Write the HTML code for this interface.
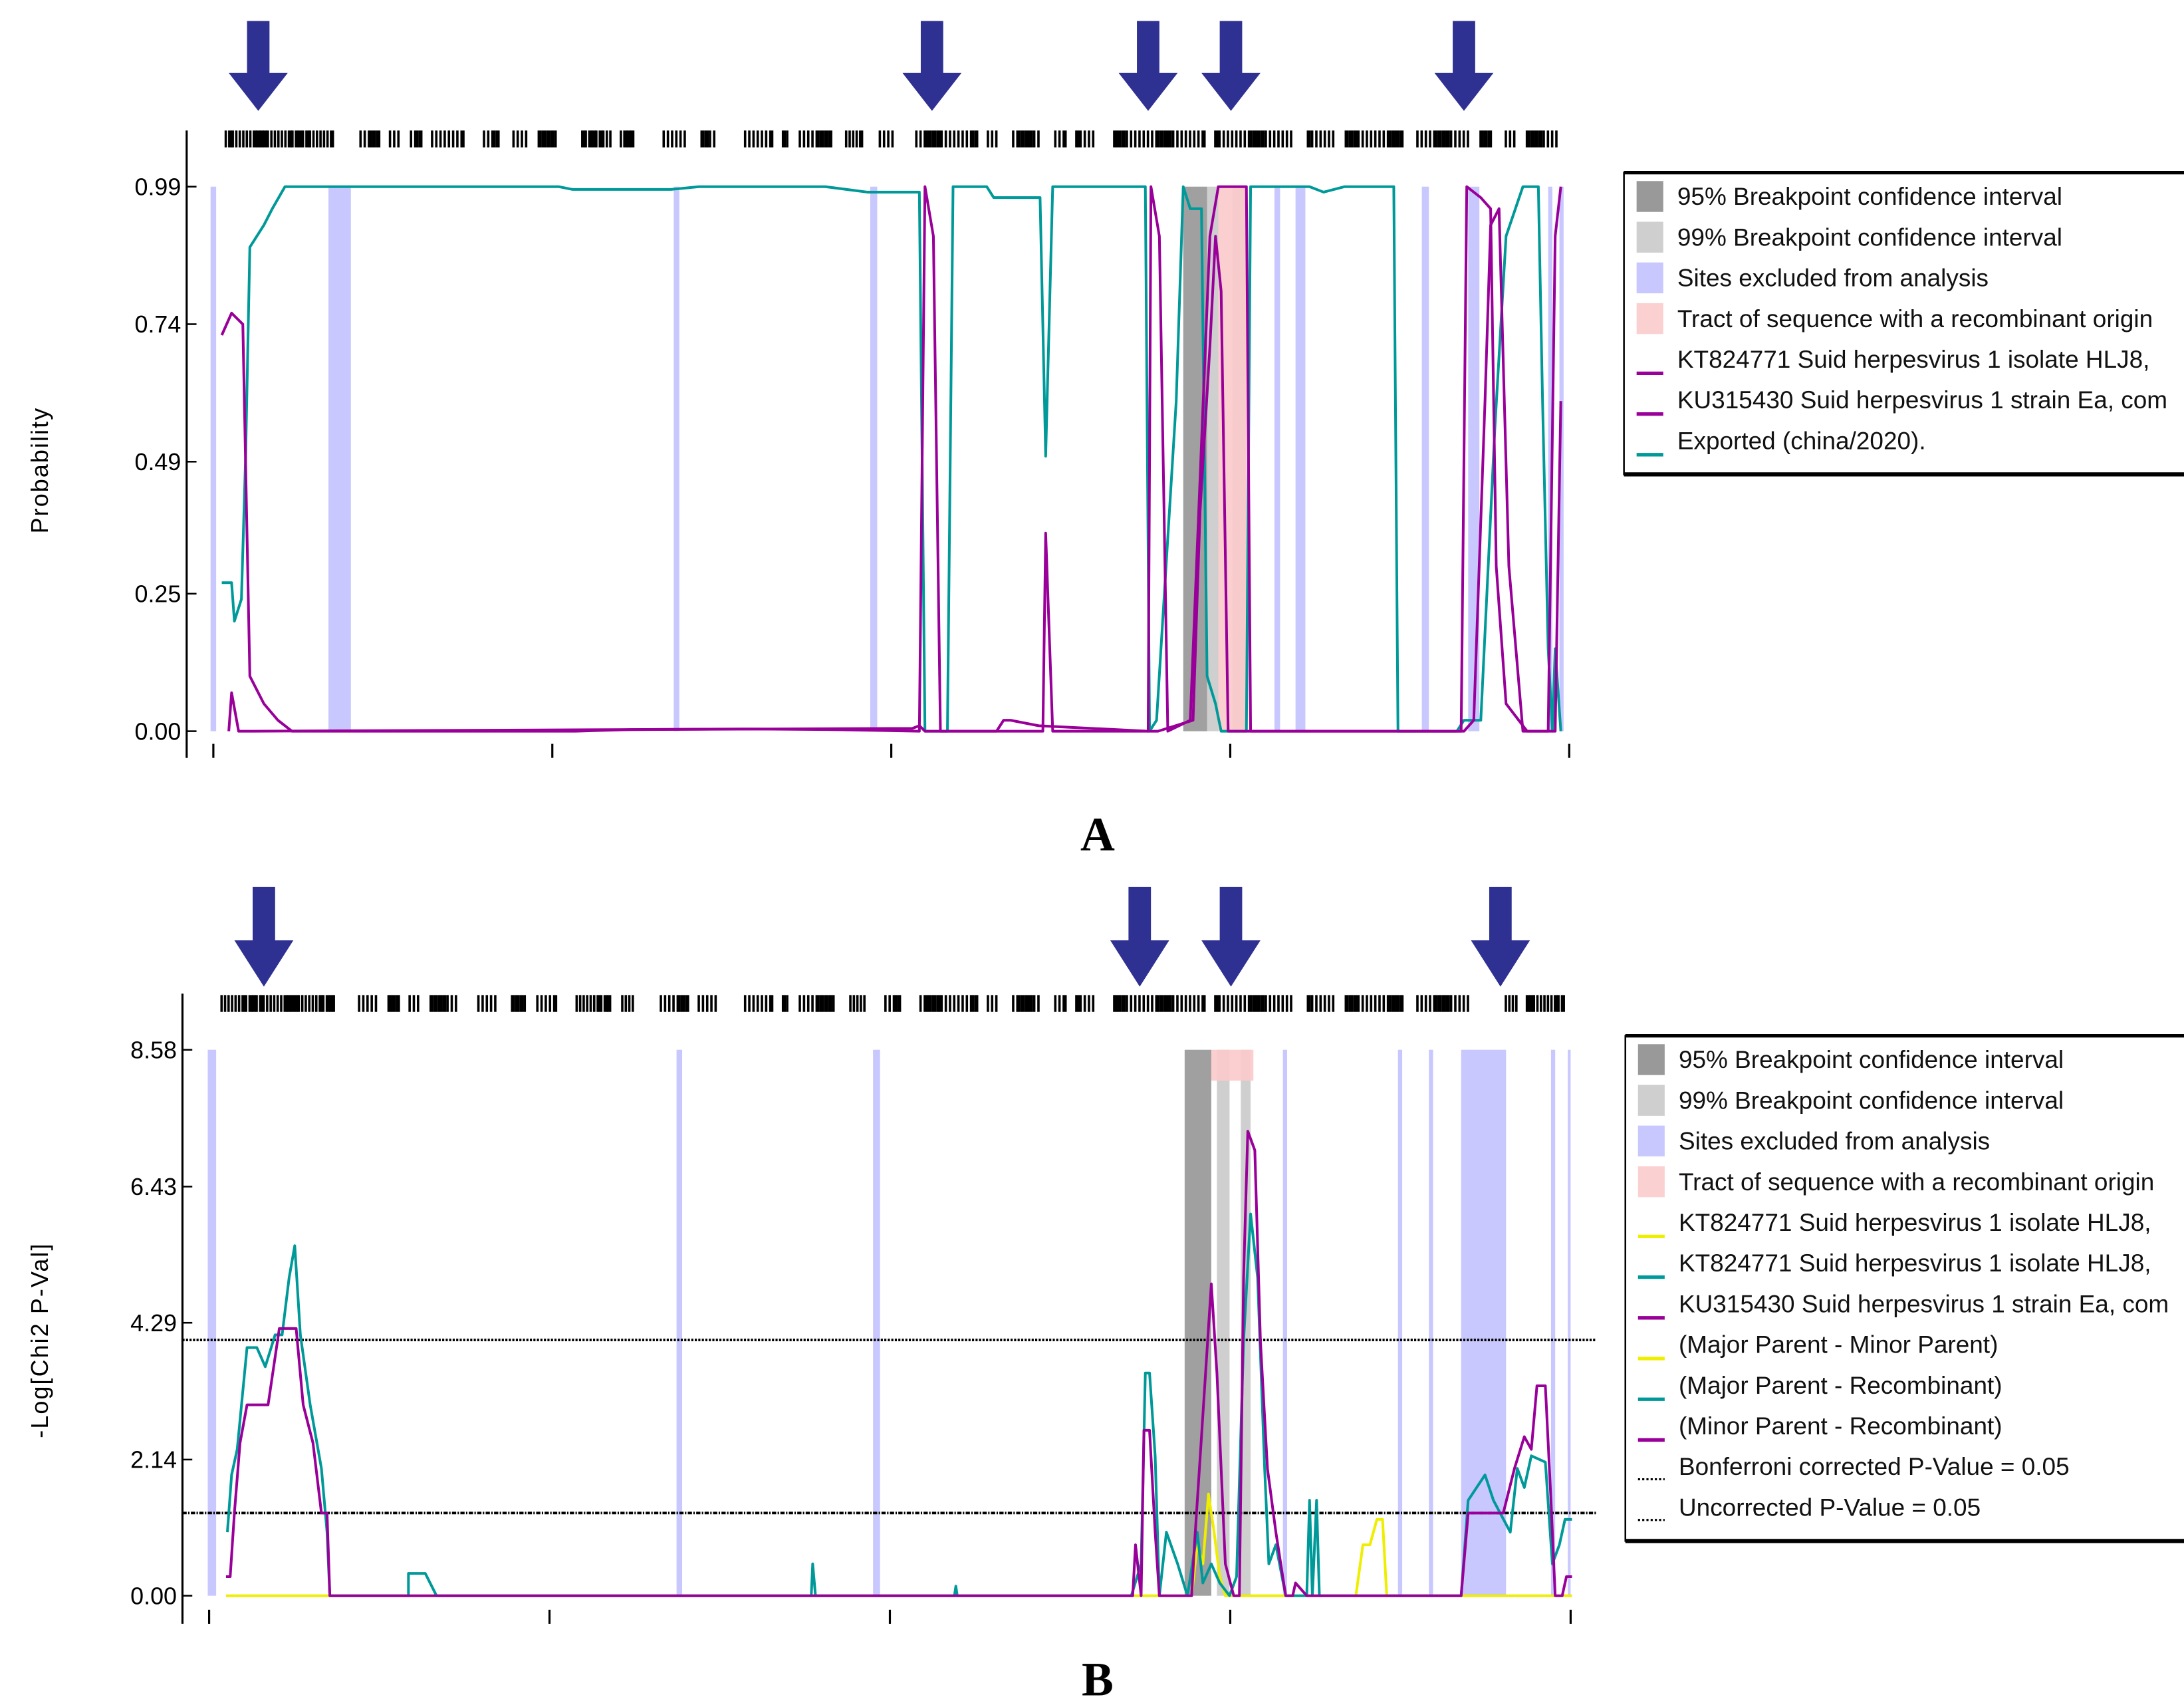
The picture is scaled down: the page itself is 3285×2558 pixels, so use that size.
<!DOCTYPE html>
<html><head><meta charset="utf-8"><style>
html,body{margin:0;padding:0;background:#fff;overflow:hidden;}
svg{display:block;}
.sans{font-family:"Liberation Sans",sans-serif;}
</style></head><body>
<svg id="chart" class="sans" width="3285" height="2558" viewBox="0 0 1556 1212" preserveAspectRatio="none" xmlns="http://www.w3.org/2000/svg">
<g id="panelA"></g>
<g id="panelB"></g>
<text x="782" y="606" style="font-family:'Liberation Serif',serif;font-weight:bold;font-size:34px" text-anchor="middle">A</text>
<text x="782" y="1208" style="font-family:'Liberation Serif',serif;font-weight:bold;font-size:34px" text-anchor="middle">B</text>
</svg>
<script>
// ---------- Data (positions in hundreds of nt along alignment) ----------
const arrowsA = [34, 514, 668, 727, 893];
const arrowsB = [38, 662, 727, 919];
const tickDenseA = [[10,86],[106,180],[194,246],[264,300],[322,360],[380,440],[452,462],[476,486],[502,960]];
const tickGapsA = [[120,125],[135,140],[150,155],[205,212],[225,230],[285,290],[340,346],[400,404],[412,418],[545,552],[560,570],[590,598],[610,614],[630,640],[708,712],[770,780],[800,806],[850,856],[896,902],[912,920],[930,936]];
const tickDenseB = [[7,88],[105,175],[190,244],[260,300],[320,360],[380,444],[455,465],[480,490],[505,896],[922,962]];

const yTicksA = [0.00, 0.25, 0.49, 0.74, 0.99];
const yTicksB = [0.00, 2.14, 4.29, 6.43, 8.58];
const bonferroni = 4.02;
const uncorrected = 1.30;

const excludedA = [[0,4],[84,100],[330,334],[470,475],[758,762],[773,780],[863,868],[896,904],[953,956],[961,964]];
const ci95A = [[693,710]];
const ci99A = [[710,718],[728,738]];
const tractA = [[718,738]];

const excludedB = [[-2,4],[332,336],[472,477],[764,767],[846,849],[868,871],[891,923],[955,958],[967,969]];
const ci95B = [[694,713]];
const ci99B = [[717,726],[734,741]];
const tractB = [[713,743]];

// Panel A series
const tealA_x = [8,15,17,22,25,28,38,44,53,248,258,328,348,438,468,505,509,525,529,553,558,591,595,600,605,666,669,674,688,693,698,706,710,716,720,723,738,741,783,793,808,843,846,888,893,905,915,923,935,946,949,953,956,958,962];
const tealA_v = [0.27,0.27,0.20,0.24,0.50,0.88,0.92,0.95,0.99,0.99,0.985,0.985,0.99,0.99,0.98,0.98,0.00,0.00,0.99,0.99,0.97,0.97,0.50,0.99,0.99,0.99,0.00,0.02,0.60,0.99,0.95,0.95,0.10,0.05,0.00,0.00,0.00,0.99,0.99,0.98,0.99,0.99,0.00,0.00,0.02,0.02,0.55,0.90,0.99,0.99,0.60,0.15,0.00,0.15,0.00];
const purpleA1_x = [8,15,23,28,38,48,58,260,300,380,440,505,509,515,520,593,595,600,668,670,676,682,698,712,718,723,738,741,891,895,905,912,916,923,938,953,958,962];
const purpleA1_v = [0.72,0.76,0.74,0.10,0.05,0.02,0.00,0.00,0.003,0.004,0.003,0.00,0.99,0.90,0.00,0.00,0.36,0.00,0.00,0.99,0.90,0.00,0.02,0.90,0.99,0.99,0.99,0.00,0.00,0.99,0.97,0.95,0.30,0.05,0.00,0.00,0.90,0.99];
const purpleA2_x = [13,15,20,30,500,505,509,560,565,570,590,668,675,700,705,712,716,720,725,893,900,908,912,918,925,935,958,962];
const purpleA2_v = [0.00,0.07,0.00,0.00,0.005,0.01,0.00,0.00,0.02,0.02,0.01,0.00,0.00,0.02,0.40,0.70,0.90,0.80,0.00,0.00,0.02,0.60,0.92,0.95,0.30,0.00,0.00,0.60];

// Panel B series
const tealB_x = [12,15,19,26,33,39,46,51,56,60,64,71,79,83,85,141,141,153,161,428,429,431,530,531,532,656,663,666,669,673,676,681,689,696,703,707,713,719,726,731,736,741,746,751,754,759,766,781,783,785,788,790,791,891,896,908,914,926,931,936,941,951,956,961,965,970];
const tealB_v = [1.0,1.9,2.3,3.9,3.9,3.6,4.1,4.1,5.0,5.5,4.1,3.0,2.0,1.0,0,0,0.35,0.35,0,0,0.5,0,0,0.15,0,0,0.5,3.5,3.5,2.2,0,1.0,0.5,0,1.0,0.2,0.5,0.2,0,0.3,4.0,6.0,5.0,2.0,0.5,0.8,0,0,1.5,0,1.5,0,0,0,1.5,1.9,1.5,1.0,2.0,1.7,2.2,2.1,0.5,0.8,1.2,1.2];
const purpleB_x = [11,14,17,21,26,41,49,61,66,73,79,83,85,657,659,663,665,669,673,676,699,701,706,713,717,723,729,733,736,739,744,748,753,759,766,771,773,781,891,896,921,929,936,941,945,951,955,958,963,966,970];
const purpleB_v = [0.3,0.3,1.3,2.4,3.0,3.0,4.2,4.2,3.0,2.4,1.3,1.3,0,0,0.8,0,2.6,2.6,1.0,0,0,0.8,2.5,4.9,3.5,0.5,0,0,5.0,7.3,7.0,4.0,2.0,1.0,0,0,0.2,0,0,1.3,1.3,2.0,2.5,2.3,3.3,3.3,1.5,0,0,0.3,0.3];
const yellowB_x = [11,699,703,707,711,715,719,723,816,821,826,831,835,838,970];
const yellowB_v = [0,0,0.8,0.5,1.6,1.0,0.3,0,0,0.8,0.8,1.2,1.2,0,0];

const legendA = [
 ["band","#999999","95% Breakpoint confidence interval"],
 ["band","#cfcfcf","99% Breakpoint confidence interval"],
 ["band","#c8c8ff","Sites excluded from analysis"],
 ["band","#fbd0d0","Tract of sequence with a recombinant origin"],
 ["line","#990099","KT824771 Suid herpesvirus 1 isolate HLJ8,"],
 ["line","#990099","KU315430 Suid herpesvirus 1 strain Ea, com"],
 ["line","#009999","Exported (china/2020)."]];
const legendB = [
 ["band","#999999","95% Breakpoint confidence interval"],
 ["band","#cfcfcf","99% Breakpoint confidence interval"],
 ["band","#c8c8ff","Sites excluded from analysis"],
 ["band","#fbd0d0","Tract of sequence with a recombinant origin"],
 ["line","#eeee00","KT824771 Suid herpesvirus 1 isolate HLJ8,"],
 ["line","#009999","KT824771 Suid herpesvirus 1 isolate HLJ8,"],
 ["line","#990099","KU315430 Suid herpesvirus 1 strain Ea, com"],
 ["line","#eeee00","(Major Parent - Minor Parent)"],
 ["line","#009999","(Major Parent - Recombinant)"],
 ["line","#990099","(Minor Parent - Recombinant)"],
 ["dot","#000","Bonferroni corrected P-Value = 0.05"],
 ["dot","#000","Uncorrected P-Value = 0.05"]];

const NS = "http://www.w3.org/2000/svg";
function mk(parent, tag, attrs){const e=document.createElementNS(NS,tag);for(const k in attrs)e.setAttribute(k,attrs[k]);parent.appendChild(e);return e;}

function drawPanel(g, cfg){
  const xs = v => cfg.x0 + (v - cfg.d0) / (cfg.d1 - cfg.d0) * (cfg.x1 - cfg.x0);
  const ys = v => cfg.yb - v / cfg.ymax * (cfg.yb - cfg.yt);
  const bandSets = [[cfg.excl,"#c8c8ff","excluded-site-band"],[cfg.ci99,"#cfcfcf","ci99-band"],[cfg.ci95,"#a0a0a0","ci95-band"]];
  bandSets.forEach(([arr,col,nm])=>arr.forEach(b=>{
    const r=mk(g,"rect",{x:xs(b[0]),y:cfg.yt,width:Math.max(2,xs(b[1])-xs(b[0])),height:cfg.yb-cfg.yt,fill:col});
    
    
  }));
  cfg.tract.forEach(b=>{
    const h = cfg.tractFull ? cfg.yb-cfg.yt : 22;
    const r=mk(g,"rect",{x:xs(b[0]),y:cfg.yt,width:xs(b[1])-xs(b[0]),height:h,fill:"#fbcaca",opacity:0.9});
    
    
  });
  (cfg.thresholds||[]).forEach((t,i)=>{
    const l=mk(g,"line",{x1:cfg.axisX,x2:1137,y1:ys(t),y2:ys(t),stroke:"#000","stroke-width":1.8,"stroke-dasharray":i?"3,1,1,1":"1.5,1"});
    
    
  });
  cfg.series.forEach(s=>{
    const pts=s.x.map((v,i)=>xs(v).toFixed(1)+","+ys(s.v[i]).toFixed(1)).join(" ");
    const p=mk(g,"polyline",{points:pts,fill:"none",stroke:s.color,"stroke-width":1.9,"stroke-linejoin":"round"});
    
    
  });
  const ax=mk(g,"line",{x1:cfg.axisX,x2:cfg.axisX,y1:cfg.axisTop,y2:cfg.axisBot,stroke:"#000","stroke-width":1.5});
  
  
  cfg.yticks.forEach(t=>{
    const tl=mk(g,"line",{x1:cfg.axisX,x2:cfg.axisX+7,y1:ys(t),y2:ys(t),stroke:"#000","stroke-width":1.2});
    
    
    const tx=mk(g,"text",{x:cfg.axisX-4,y:ys(t)+6,"font-size":17,"text-anchor":"end",fill:"#000"});
    tx.textContent=t.toFixed(2);
    
    
  });
  for(let i=0;i<5;i++){
    const xv=cfg.xTick0+i*(cfg.xTick1-cfg.xTick0)/4;
    const tl=mk(g,"line",{x1:xv,x2:xv,y1:cfg.axisBot-10,y2:cfg.axisBot,stroke:"#000","stroke-width":1.5});
    
    
  }
  const yt=mk(g,"text",{x:0,y:0,"font-size":17,"text-anchor":"middle",transform:`translate(${cfg.titleX},${cfg.titleY}) rotate(-90)`,"letter-spacing":"1"});
  yt.textContent=cfg.title;
  
  
  const sg=mk(g,"g",{});
  
  
  cfg.dense.forEach((r,ri)=>{
    for(let v=r[0]; v<=r[1]; v+= (ri%3===0?2.5:3)){
      if(cfg.gaps && cfg.gaps.some(gp=>v>=gp[0]&&v<=gp[1])) continue;
      const w = ((Math.round(v)*7)%11<4)?3:1.7;
      mk(sg,"rect",{x:xs(v),y:cfg.trackY,width:w,height:12,fill:"#000"});
    }
  });
  cfg.arrows.forEach(a=>{
    const cx=xs(a), t=cfg.arrowTop, m=cfg.arrowMid, b=cfg.arrowBot;
    const p=mk(g,"polygon",{points:`${cx-8},${t} ${cx+8},${t} ${cx+8},${m} ${cx+21},${m} ${cx},${b} ${cx-21},${m} ${cx-8},${m}`,fill:"#2e3192"});
    
    
  });
  const lg=mk(g,"g",{});
  
  
  const lh = cfg.legend.length*29+12;
  mk(lg,"rect",{x:cfg.legX,y:cfg.legY,width:420,height:lh,fill:"#fff",stroke:"#000","stroke-width":1.2});
  mk(lg,"line",{x1:cfg.legX,x2:cfg.legX+420,y1:cfg.legY+lh,y2:cfg.legY+lh,stroke:"#000","stroke-width":3});
  mk(lg,"line",{x1:cfg.legX,x2:cfg.legX+420,y1:cfg.legY,y2:cfg.legY,stroke:"#000","stroke-width":2.5});
  cfg.legend.forEach((e,i)=>{
    const cy=cfg.legY+17+i*29;
    const item=mk(lg,"g",{});
    
    
    if(e[0]==="band") mk(item,"rect",{x:cfg.legX+9,y:cy-11,width:19,height:22,fill:e[1]});
    else if(e[0]==="line") mk(item,"line",{x1:cfg.legX+9,x2:cfg.legX+28,y1:cy+10,y2:cy+10,stroke:e[1],"stroke-width":2.5});
    else mk(item,"line",{x1:cfg.legX+9,x2:cfg.legX+28,y1:cy+9,y2:cy+9,stroke:"#000","stroke-width":1.5,"stroke-dasharray":"1.5,1.5"});
    const t=mk(item,"text",{x:cfg.legX+38,y:cy+6,"font-size":17.5,fill:"#111"});
    t.textContent=e[2];
  });
}

drawPanel(document.getElementById("panelA"),{
  x0:152,x1:1118,d0:2,d1:968,yt:133,yb:521,ymax:0.99,
  excl:excludedA,ci95:ci95A,ci99:ci99A,tract:tractA,tractFull:true,
  series:[{x:tealA_x,v:tealA_v,color:"#009999",name:"exported-china-2020-line"},
          {x:purpleA1_x,v:purpleA1_v,color:"#990099",name:"kt824771-line"},
          {x:purpleA2_x,v:purpleA2_v,color:"#990099",name:"ku315430-line"}],
  axisX:133,axisTop:93,axisBot:540,yticks:yTicksA,xTick0:152,xTick1:1118,
  title:"Probability",titleX:34,titleY:335,
  dense:tickDenseA,gaps:tickGapsA,trackY:93,arrows:arrowsA,arrowTop:15,arrowMid:52,arrowBot:79,
  legend:legendA,legX:1157,legY:123
});
drawPanel(document.getElementById("panelB"),{
  x0:149,x1:1119,d0:-1,d1:969,yt:748,yb:1137,ymax:8.58,
  excl:excludedB,ci95:ci95B,ci99:ci99B,tract:tractB,tractFull:false,
  thresholds:[bonferroni,uncorrected],
  series:[{x:yellowB_x,v:yellowB_v,color:"#eeee00",name:"major-minor-parent-line"},
          {x:tealB_x,v:tealB_v,color:"#009999",name:"major-parent-recombinant-line"},
          {x:purpleB_x,v:purpleB_v,color:"#990099",name:"minor-parent-recombinant-line"}],
  axisX:130,axisTop:708,axisBot:1157,yticks:yTicksB,xTick0:149,xTick1:1119,
  title:"-Log[Chi2 P-Val]",titleX:34,titleY:955,
  dense:tickDenseB,gaps:tickGapsA,trackY:709,arrows:arrowsB,arrowTop:632,arrowMid:670,arrowBot:703,
  legend:legendB,legX:1158,legY:738
});
</script>
</body></html>
